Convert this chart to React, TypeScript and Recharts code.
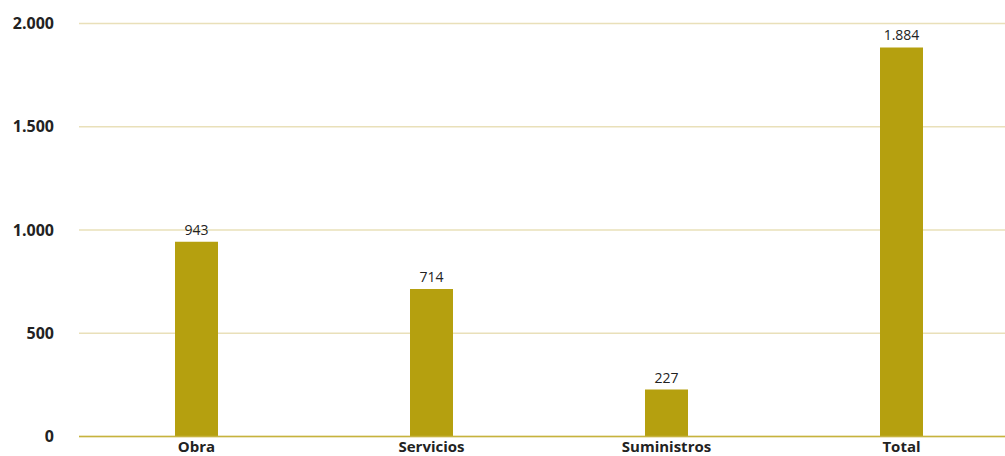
import React from 'react';
import { BarChart, Bar, XAxis, YAxis, CartesianGrid, LabelList } from 'recharts';

const categories = ['Obra', 'Servicios', 'Suministros', 'Total'];
const values = [943, 714, 227, 1884];
const yTicks = [0, 500, 1000, 1500, 2000];

const data = categories.map((name, i) => ({ name, value: values[i] }));

const fmt = (v: number) => String(v).replace(/\B(?=(\d{3})+(?!\d))/g, '.');

const font = '"Open Sans", "Noto Sans", sans-serif';

export default function App() {
  return (
    <div style={{ position: 'absolute', left: 0, top: 0, width: 1005, height: 456, overflow: 'hidden', background: '#fff' }}>
      <BarChart
        width={1020}
        height={456}
        data={data}
        margin={{ top: 23.5, right: 1, bottom: 0, left: 0 }}
        style={{ fontFamily: font }}
      >
        <CartesianGrid horizontal vertical={false} stroke="#E9E0B9" strokeWidth={1.5} />
        <XAxis
          dataKey="name"
          height={19.5}
          tickSize={0}
          tickMargin={5}
          axisLine={{ stroke: '#C6B33E', strokeWidth: 1.5 }}
          tickLine={false}
          tick={{ fill: '#222', fontSize: 15, fontWeight: 700 }}
          interval={0}
        />
        <YAxis
          width={79}
          domain={[0, 2000]}
          ticks={yTicks}
          tickFormatter={fmt}
          tickSize={0}
          tickMargin={25}
          axisLine={false}
          tickLine={false}
          tick={{ fill: '#222', fontSize: 16, fontWeight: 700 }}
        />
        <Bar dataKey="value" fill="#B5A00F" barSize={43} isAnimationActive={false}>
          <LabelList dataKey="value" position="top" offset={7} formatter={(v: any) => fmt(v)} style={{ fill: '#222', fontSize: 14 }} />
        </Bar>
      </BarChart>
    </div>
  );
}
